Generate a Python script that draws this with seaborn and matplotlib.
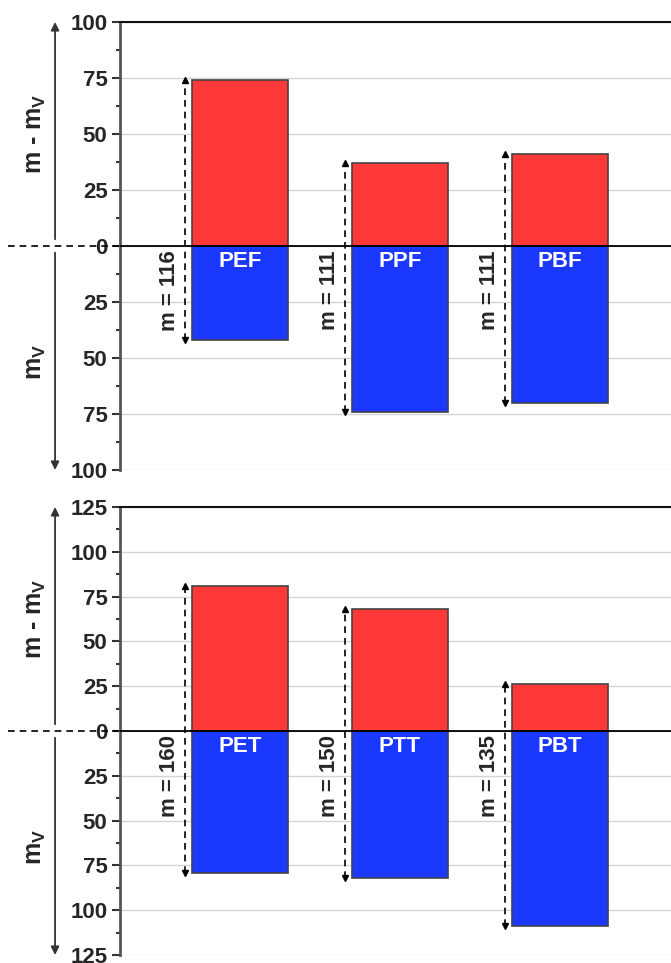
import numpy as np
import pandas as pd
import matplotlib
matplotlib.use("Agg")
import matplotlib.pyplot as plt
from matplotlib.ticker import MultipleLocator, FuncFormatter
import seaborn as sns

# films (top) and tapes (bottom)
films = ["PEF", "PPF", "PBF"]
films_up = [74, 37, 41]      # m - mV
films_down = [42, 74, 70]    # mV
films_m = [116, 111, 111]

tapes = ["PET", "PTT", "PBT"]
tapes_up = [81, 68, 26]
tapes_down = [79, 82, 109]
tapes_m = [160, 150, 135]

RED = "#ff3838"
BLUE = "#1a38ff"

sns.set_style("ticks")
plt.rcParams["font.family"] = ["Liberation Sans", "DejaVu Sans"]
plt.rcParams["font.weight"] = "bold"
plt.rcParams["mathtext.default"] = "regular"


def draw_panel(ax, names, up, down, masses, lim, step):
    df = pd.DataFrame({"name": names, "up": up, "down": [-d for d in down]})
    sns.barplot(data=df, x="name", y="up", color=RED, width=0.6,
                edgecolor="#444444", linewidth=1.2, saturation=1, ax=ax, zorder=3)
    sns.barplot(data=df, x="name", y="down", color=BLUE, width=0.6,
                edgecolor="#444444", linewidth=1.2, saturation=1, ax=ax, zorder=3)

    ax.set_xlim(-0.75, 2.75)
    ax.set_ylim(-lim, lim)
    ax.set_xlabel("")
    ax.set_ylabel("")
    ax.set_xticks([])
    ax.yaxis.set_major_locator(MultipleLocator(step))
    ax.yaxis.set_minor_locator(MultipleLocator(step / 2))
    ax.yaxis.set_major_formatter(FuncFormatter(lambda v, p: f"{abs(v):.0f}"))
    ax.tick_params(axis="y", which="major", length=6, width=1.5, color="#333333",
                   labelsize=16, pad=3)
    ax.tick_params(axis="y", which="minor", length=3, width=1.5, color="#333333")
    for lab in ax.get_yticklabels():
        lab.set_fontweight("bold")
    ax.grid(axis="y", which="major", color="#d4d4d4", lw=1, zorder=0)

    for s in ["right", "bottom"]:
        ax.spines[s].set_visible(False)
    ax.spines["left"].set_color("#555555")
    ax.spines["left"].set_linewidth(2)
    ax.spines["top"].set_color("#111111")
    ax.spines["top"].set_linewidth(1.5)

    # zero line and its dashed continuation to the left
    ax.axhline(0, color="black", lw=1.3, zorder=4)
    trans = matplotlib.transforms.blended_transform_factory(ax.transAxes, ax.transData)
    ax.plot([-0.2, 0], [0, 0], transform=trans, color="black", lw=1.2,
            ls=(0, (4, 3)), clip_on=False)

    # side arrows + labels
    ax.annotate("", xy=(-0.116, lim), xytext=(-0.116, lim * 0.03),
                xycoords=trans, textcoords=trans, annotation_clip=False,
                arrowprops=dict(arrowstyle="-|>", color="#333333", lw=1.3,
                                mutation_scale=12, shrinkA=0, shrinkB=0))
    ax.annotate("", xy=(-0.116, -lim), xytext=(-0.116, -lim * 0.03),
                xycoords=trans, textcoords=trans, annotation_clip=False,
                arrowprops=dict(arrowstyle="-|>", color="#333333", lw=1.3,
                                mutation_scale=12, shrinkA=0, shrinkB=0))
    ax.text(-0.15, lim * 0.5, "m - m$_V$", transform=trans, rotation=90,
            ha="center", va="center", fontsize=18, fontweight="bold")
    ax.text(-0.15, -lim * 0.52, "m$_V$", transform=trans, rotation=90,
            ha="center", va="center", fontsize=18, fontweight="bold")

    for i, name in enumerate(names):
        ax.annotate(name, xy=(i, 0), xytext=(0, -11), textcoords="offset points",
                    ha="center", va="center", color="white", fontsize=16,
                    fontweight="bold", zorder=5)
        xa = i - 0.345
        ax.vlines(xa, -down[i], up[i], colors="black", lw=1.2,
                  linestyles=(0, (4, 3)), zorder=5)
        ax.plot([xa], [up[i]], marker="^", color="black", ms=5, zorder=5)
        ax.plot([xa], [-down[i]], marker="v", color="black", ms=5, zorder=5)
        ax.annotate(f"m = {masses[i]}", xy=(i - 0.44, 0), xytext=(0, -3),
                    textcoords="offset points", rotation=90, ha="center", va="top",
                    fontsize=16, fontweight="bold", zorder=5)

    # inward ticks on the right side
    ax2 = ax.twinx()
    ax2.set_ylim(-lim, lim)
    ax2.yaxis.set_major_locator(MultipleLocator(step))
    ax2.yaxis.set_minor_locator(MultipleLocator(step / 2))
    ax2.tick_params(axis="y", which="both", direction="in", labelright=False,
                    color="#333333", width=1.5)
    ax2.tick_params(axis="y", which="major", length=6)
    ax2.tick_params(axis="y", which="minor", length=3)
    for s in ax2.spines.values():
        s.set_visible(False)


fig = plt.figure(figsize=(6.71, 9.63), dpi=100)
W, H = 671, 963
ax_top = fig.add_axes([120 / W, 1 - 470 / H, 560 / W, 448 / H])
ax_bot = fig.add_axes([120 / W, 1 - 955 / H, 560 / W, 448 / H])

draw_panel(ax_top, films, films_up, films_down, films_m, 100, 25)
draw_panel(ax_bot, tapes, tapes_up, tapes_down, tapes_m, 125, 25)

fig.savefig("out.png", dpi=100, facecolor="white")
